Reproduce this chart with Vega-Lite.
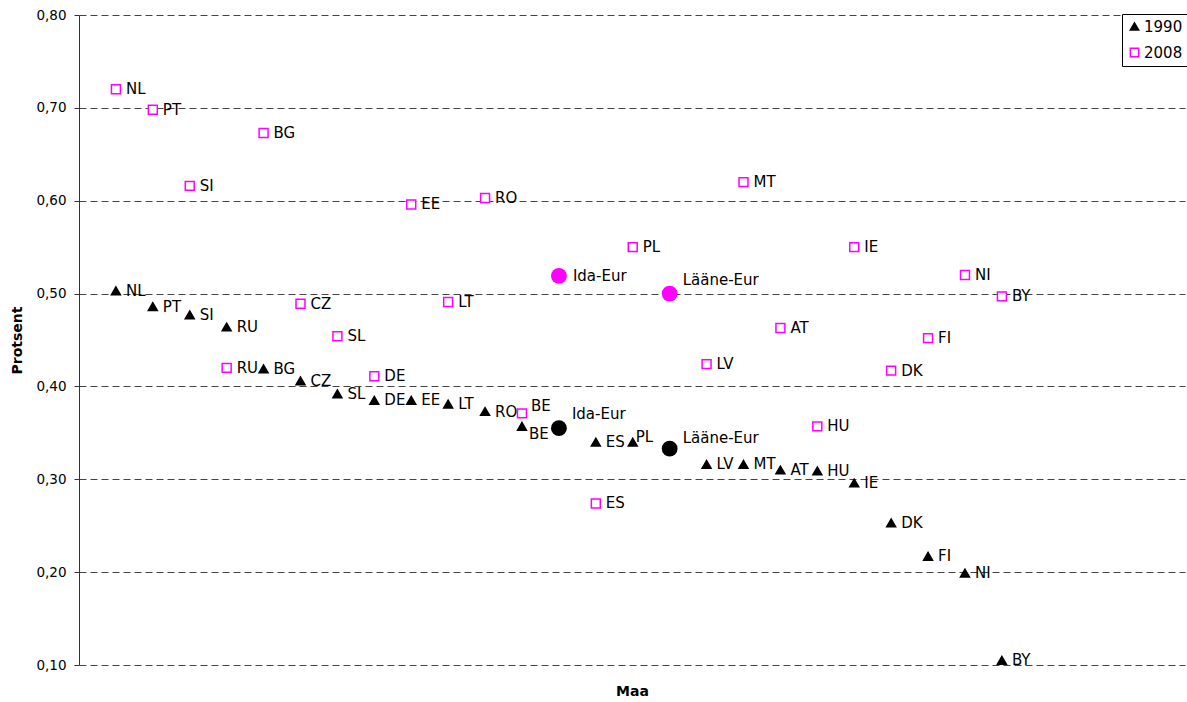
{
  "$schema": "https://vega.github.io/schema/vega-lite/v6.json",
  "autosize": "none",
  "width": 1106,
  "height": 650,
  "padding": {"left": 79, "top": 15, "right": 2, "bottom": 37},
  "background": "white",
  "config": {
    "font": "DejaVu Sans",
    "view": {"stroke": null},
    "text": {"font": "DejaVu Sans", "fontSize": 15, "color": "black"}
  },
  "data": {
    "values": [
      {"jrk": 1, "maa": "NL", "aasta": "1990", "v": 0.503},
      {"jrk": 2, "maa": "PT", "aasta": "1990", "v": 0.486},
      {"jrk": 3, "maa": "SI", "aasta": "1990", "v": 0.477},
      {"jrk": 4, "maa": "RU", "aasta": "1990", "v": 0.464},
      {"jrk": 5, "maa": "BG", "aasta": "1990", "v": 0.419},
      {"jrk": 6, "maa": "CZ", "aasta": "1990", "v": 0.406},
      {"jrk": 7, "maa": "SL", "aasta": "1990", "v": 0.392},
      {"jrk": 8, "maa": "DE", "aasta": "1990", "v": 0.385},
      {"jrk": 9, "maa": "EE", "aasta": "1990", "v": 0.385},
      {"jrk": 10, "maa": "LT", "aasta": "1990", "v": 0.381},
      {"jrk": 11, "maa": "RO", "aasta": "1990", "v": 0.373},
      {"jrk": 12, "maa": "BE", "aasta": "1990", "v": 0.357},
      {"jrk": 13, "maa": "Ida-Eur", "aasta": "1990", "v": 0.355},
      {"jrk": 14, "maa": "ES", "aasta": "1990", "v": 0.340},
      {"jrk": 15, "maa": "PL", "aasta": "1990", "v": 0.340},
      {"jrk": 16, "maa": "Lääne-Eur", "aasta": "1990", "v": 0.333},
      {"jrk": 17, "maa": "LV", "aasta": "1990", "v": 0.316},
      {"jrk": 18, "maa": "MT", "aasta": "1990", "v": 0.316},
      {"jrk": 19, "maa": "AT", "aasta": "1990", "v": 0.310},
      {"jrk": 20, "maa": "HU", "aasta": "1990", "v": 0.309},
      {"jrk": 21, "maa": "IE", "aasta": "1990", "v": 0.296},
      {"jrk": 22, "maa": "DK", "aasta": "1990", "v": 0.253},
      {"jrk": 23, "maa": "FI", "aasta": "1990", "v": 0.217},
      {"jrk": 24, "maa": "NI", "aasta": "1990", "v": 0.199},
      {"jrk": 25, "maa": "BY", "aasta": "1990", "v": 0.105},
      {"jrk": 1, "maa": "NL", "aasta": "2008", "v": 0.720},
      {"jrk": 2, "maa": "PT", "aasta": "2008", "v": 0.698},
      {"jrk": 3, "maa": "SI", "aasta": "2008", "v": 0.616},
      {"jrk": 4, "maa": "RU", "aasta": "2008", "v": 0.420},
      {"jrk": 5, "maa": "BG", "aasta": "2008", "v": 0.673},
      {"jrk": 6, "maa": "CZ", "aasta": "2008", "v": 0.489},
      {"jrk": 7, "maa": "SL", "aasta": "2008", "v": 0.454},
      {"jrk": 8, "maa": "DE", "aasta": "2008", "v": 0.411},
      {"jrk": 9, "maa": "EE", "aasta": "2008", "v": 0.596},
      {"jrk": 10, "maa": "LT", "aasta": "2008", "v": 0.491},
      {"jrk": 11, "maa": "RO", "aasta": "2008", "v": 0.603},
      {"jrk": 12, "maa": "BE", "aasta": "2008", "v": 0.371},
      {"jrk": 13, "maa": "Ida-Eur", "aasta": "2008", "v": 0.519},
      {"jrk": 14, "maa": "ES", "aasta": "2008", "v": 0.274},
      {"jrk": 15, "maa": "PL", "aasta": "2008", "v": 0.550},
      {"jrk": 16, "maa": "Lääne-Eur", "aasta": "2008", "v": 0.500},
      {"jrk": 17, "maa": "LV", "aasta": "2008", "v": 0.424},
      {"jrk": 18, "maa": "MT", "aasta": "2008", "v": 0.620},
      {"jrk": 19, "maa": "AT", "aasta": "2008", "v": 0.463},
      {"jrk": 20, "maa": "HU", "aasta": "2008", "v": 0.357},
      {"jrk": 21, "maa": "IE", "aasta": "2008", "v": 0.550},
      {"jrk": 22, "maa": "DK", "aasta": "2008", "v": 0.417},
      {"jrk": 23, "maa": "FI", "aasta": "2008", "v": 0.452},
      {"jrk": 24, "maa": "NI", "aasta": "2008", "v": 0.520},
      {"jrk": 25, "maa": "BY", "aasta": "2008", "v": 0.497}
    ]
  },
  "encoding": {
    "x": {
      "field": "jrk",
      "type": "quantitative",
      "scale": {"domain": [0, 29.96], "nice": false, "zero": true},
      "axis": {
        "title": "Maa",
        "domain": false,
        "ticks": false,
        "labels": false,
        "grid": false,
        "titleFont": "DejaVu Sans",
        "titleFontSize": 14,
        "titleFontWeight": "bold",
        "titleColor": "black",
        "titlePadding": 19
      }
    },
    "y": {
      "field": "v",
      "type": "quantitative",
      "scale": {"domain": [0.1, 0.8], "nice": false, "zero": false},
      "axis": {
        "title": "Protsent",
        "values": [0.1, 0.2, 0.3, 0.4, 0.5, 0.6, 0.7, 0.8],
        "labelExpr": "replace(format(datum.value, '.2f'), '.', ',')",
        "labelFont": "DejaVu Sans",
        "labelFontSize": 13.5,
        "labelColor": "black",
        "labelPadding": 8,
        "domainColor": "#333333",
        "domainWidth": 1,
        "tickColor": "#333333",
        "tickSize": 5,
        "grid": true,
        "gridColor": "#444444",
        "gridDash": [7, 4],
        "gridWidth": 1,
        "titleFont": "DejaVu Sans",
        "titleFontSize": 14,
        "titleFontWeight": "bold",
        "titleColor": "black",
        "titlePadding": 11
      }
    }
  },
  "layer": [
    {
      "transform": [{"filter": "datum.maa != 'Ida-Eur' && datum.maa != 'Lääne-Eur'"}],
      "mark": {"type": "point", "filled": false, "size": 80, "strokeWidth": 1.5, "opacity": 1},
      "encoding": {
        "shape": {
          "field": "aasta", "type": "nominal",
          "scale": {"domain": ["1990", "2008"], "range": ["triangle-up", "square"]},
          "legend": {
            "title": null,
            "orient": "none",
            "legendX": 1043,
            "legendY": -1,
            "strokeColor": "black",
            "fillColor": "white",
            "padding": 5,
            "rowPadding": 10,
            "symbolSize": 70,
            "symbolStrokeWidth": 1.5,
            "symbolOffset": 0,
            "labelFont": "DejaVu Sans",
            "labelFontSize": 15,
            "labelColor": "black",
            "labelOffset": 2
          }
        },
        "fill": {
          "field": "aasta", "type": "nominal",
          "scale": {"domain": ["1990", "2008"], "range": ["black", "white"]},
          "legend": {"title": null}
        },
        "stroke": {
          "field": "aasta", "type": "nominal",
          "scale": {"domain": ["1990", "2008"], "range": ["black", "#ff00ff"]},
          "legend": {"title": null}
        }
      }
    },
    {
      "transform": [{"filter": "datum.maa == 'Ida-Eur' || datum.maa == 'Lääne-Eur'"}],
      "mark": {"type": "circle", "size": 250, "opacity": 1},
      "encoding": {
        "color": {
          "field": "aasta", "type": "nominal",
          "scale": {"domain": ["1990", "2008"], "range": ["black", "#ff00ff"]},
          "legend": null
        }
      }
    },
    {
      "transform": [{"filter": "!((datum.aasta == '1990' && (datum.maa == 'BE' || datum.maa == 'PL')) || (datum.aasta == '2008' && datum.maa == 'BE') || datum.maa == 'Ida-Eur' || datum.maa == 'Lääne-Eur')"}],
      "mark": {"type": "text", "align": "left", "baseline": "middle", "dx": 10},
      "encoding": {"text": {"field": "maa"}}
    },
    {
      "transform": [{"filter": "datum.aasta == '1990' && datum.maa == 'BE'"}],
      "mark": {"type": "text", "align": "left", "baseline": "middle", "dx": 7, "dy": 8},
      "encoding": {"text": {"field": "maa"}}
    },
    {
      "transform": [{"filter": "datum.aasta == '1990' && datum.maa == 'PL'"}],
      "mark": {"type": "text", "align": "left", "baseline": "middle", "dx": 3, "dy": -5},
      "encoding": {"text": {"field": "maa"}}
    },
    {
      "transform": [{"filter": "datum.aasta == '2008' && datum.maa == 'BE'"}],
      "mark": {"type": "text", "align": "left", "baseline": "middle", "dx": 9, "dy": -7},
      "encoding": {"text": {"field": "maa"}}
    },
    {
      "transform": [{"filter": "datum.aasta == '2008' && datum.maa == 'Ida-Eur'"}],
      "mark": {"type": "text", "align": "left", "baseline": "middle", "dx": 14, "dy": 0},
      "encoding": {"text": {"field": "maa"}}
    },
    {
      "transform": [{"filter": "(datum.aasta == '1990' && datum.maa == 'Ida-Eur') || (datum.aasta == '2008' && datum.maa == 'Lääne-Eur')"}],
      "mark": {"type": "text", "align": "left", "baseline": "middle", "dx": 13, "dy": -14},
      "encoding": {"text": {"field": "maa"}}
    },
    {
      "transform": [{"filter": "datum.aasta == '1990' && datum.maa == 'Lääne-Eur'"}],
      "mark": {"type": "text", "align": "left", "baseline": "middle", "dx": 13, "dy": -11},
      "encoding": {"text": {"field": "maa"}}
    }
  ]
}
